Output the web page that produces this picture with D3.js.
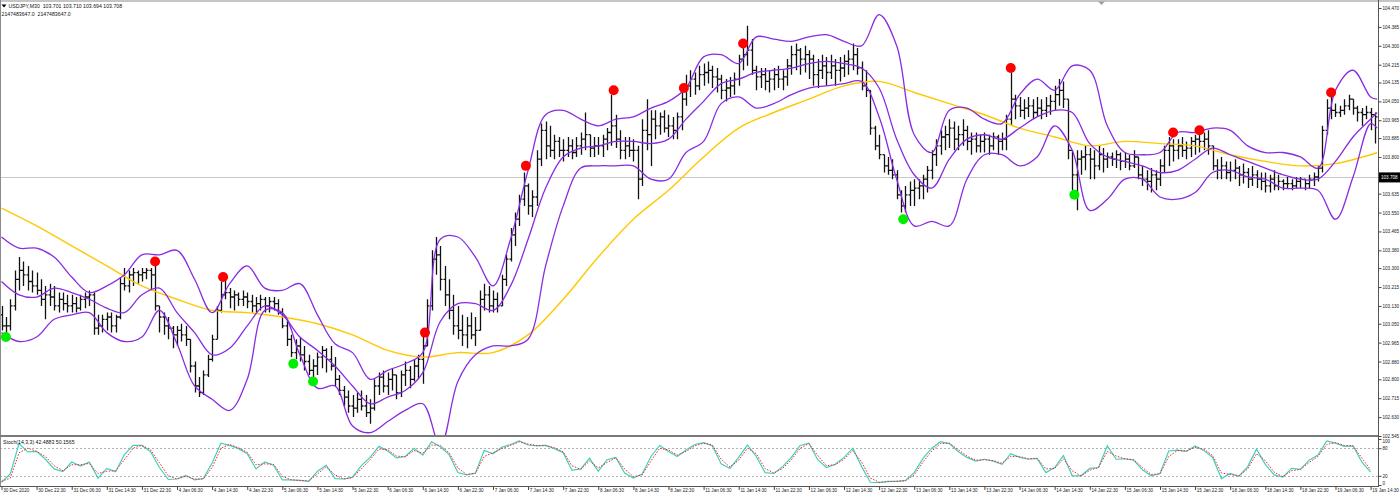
<!DOCTYPE html>
<html><head><meta charset="utf-8">
<script src="https://cdn.jsdelivr.net/npm/d3@7/dist/d3.min.js"></script>
<style>
html,body{margin:0;padding:0;background:#fff;}
svg{display:block;font-family:"Liberation Sans",Arial,sans-serif;}
text{white-space:pre;}
</style></head><body>
<svg id="chart" width="1400" height="497"></svg>
<script>
const symbolLine = "USDJPY,M30  103.701 103.710 103.694 103.708";
const subLine = "2147483647.0  2147483647.0";
const stochLabel = "Stoch(14,3,3) 42.4883 50.1565";
const lastPrice = 103.708;
const timeLabels = ["30 Dec 2020","30 Dec 22:30","31 Dec 06:30","31 Dec 14:30","31 Dec 22:30","4 Jan 06:30","4 Jan 14:30","4 Jan 22:30","5 Jan 06:30","5 Jan 14:30","5 Jan 22:30","6 Jan 06:30","6 Jan 14:30","6 Jan 22:30","7 Jan 06:30","7 Jan 14:30","7 Jan 22:30","8 Jan 06:30","8 Jan 14:30","8 Jan 22:30","11 Jan 06:30","11 Jan 14:30","11 Jan 22:30","12 Jan 06:30","12 Jan 14:30","12 Jan 22:30","13 Jan 06:30","13 Jan 14:30","13 Jan 22:30","14 Jan 06:30","14 Jan 14:30","14 Jan 22:30","15 Jan 06:30","15 Jan 14:30","15 Jan 22:30","18 Jan 06:30","18 Jan 14:30","18 Jan 22:30","19 Jan 06:30","19 Jan 14:30"];
const priceTicks = [104.470,104.385,104.300,104.215,104.135,104.050,103.965,103.885,103.800,103.635,103.550,103.465,103.380,103.300,103.215,103.130,103.050,102.965,102.880,102.800,102.715,102.630,102.545];
const stochTicks = [100,80,20,0];
const barStep = 2;      // M30 slots per drawn bar
const lastBar = 627;
const open0 = 103.09;
const high = [103.13,103.08,103.16,103.29,103.35,103.33,103.31,103.29,
103.28,103.25,103.22,103.23,103.22,103.19,103.19,103.18,
103.18,103.17,103.18,103.19,103.20,103.19,103.09,103.09,
103.10,103.10,103.09,103.26,103.30,103.29,103.30,103.29,
103.30,103.30,103.30,103.31,103.13,103.10,103.08,103.04,
103.04,103.05,103.04,102.98,102.88,102.81,102.84,102.91,
103.00,103.13,103.24,103.25,103.21,103.20,103.19,103.20,
103.19,103.18,103.17,103.18,103.17,103.17,103.17,103.16,
103.12,103.07,103.00,102.98,102.99,102.95,102.91,102.89,
102.92,102.95,102.94,102.95,102.90,102.82,102.77,102.75,
102.73,102.74,102.75,102.73,102.71,102.80,102.83,102.84,
102.83,102.85,102.82,102.84,102.88,102.86,102.89,102.91,
102.99,103.16,103.38,103.44,103.40,103.31,103.25,103.18,
103.13,103.09,103.08,103.10,103.08,103.20,103.23,103.22,
103.20,103.19,103.27,103.36,103.48,103.55,103.63,103.73,
103.68,103.65,103.83,103.95,103.96,103.94,103.90,103.89,
103.88,103.89,103.88,103.89,103.91,104.00,103.90,103.89,
103.89,103.90,103.93,104.08,103.99,103.92,103.89,103.89,
103.88,103.85,103.97,104.06,104.01,104.01,104.00,104.01,
103.99,103.98,104.00,104.09,104.17,104.19,104.18,104.21,
104.22,104.23,104.21,104.20,104.17,104.15,104.16,104.18,
104.26,104.29,104.39,104.33,104.21,104.20,104.20,104.19,
104.20,104.21,104.19,104.24,104.30,104.31,104.29,104.30,
104.28,104.26,104.24,104.26,104.25,104.26,104.24,104.25,
104.26,104.28,104.31,104.29,104.23,104.19,104.10,103.94,
103.90,103.81,103.80,103.79,103.74,103.65,103.67,103.69,
103.70,103.70,103.72,103.76,103.83,103.88,103.92,103.94,
103.97,103.96,103.94,103.97,103.94,103.91,103.91,103.90,
103.91,103.90,103.91,103.90,103.91,103.99,104.18,104.08,
104.07,104.06,104.07,104.06,104.07,104.06,104.07,104.08,
104.12,104.15,104.14,104.06,103.83,103.83,103.83,103.85,
103.84,103.83,103.85,103.84,103.82,103.82,103.83,103.82,
103.82,103.81,103.83,103.79,103.76,103.74,103.75,103.74,
103.79,103.85,103.89,103.88,103.88,103.89,103.87,103.89,
103.90,103.91,103.91,103.92,103.85,103.79,103.80,103.78,
103.78,103.79,103.76,103.77,103.75,103.76,103.74,103.73,
103.73,103.72,103.74,103.72,103.70,103.71,103.70,103.71,
103.71,103.70,103.72,103.73,103.76,103.94,104.06,104.07,
104.04,104.03,104.06,104.08,104.06,104.03,104.02,104.03,
104.02,104.00];
const low = [103.02,102.99,103.02,103.11,103.20,103.22,103.20,103.19,
103.18,103.13,103.07,103.13,103.11,103.10,103.11,103.10,
103.10,103.10,103.11,103.12,103.13,103.00,103.00,103.01,
103.02,103.01,103.01,103.07,103.20,103.19,103.22,103.23,
103.24,103.25,103.20,103.11,103.01,103.00,102.98,102.94,
102.95,102.97,102.95,102.83,102.74,102.72,102.73,102.81,
102.88,102.98,103.10,103.16,103.12,103.11,103.13,103.13,
103.12,103.10,103.10,103.11,103.10,103.10,103.11,103.09,
103.03,102.95,102.90,102.89,102.88,102.84,102.82,102.81,
102.82,102.85,102.83,102.84,102.77,102.73,102.68,102.65,
102.63,102.65,102.66,102.63,102.60,102.66,102.73,102.74,
102.73,102.75,102.71,102.72,102.77,102.76,102.79,102.80,
102.78,102.95,103.11,103.27,103.20,103.13,103.07,103.00,
102.98,102.95,102.94,102.98,102.95,103.02,103.11,103.10,
103.10,103.10,103.13,103.22,103.33,103.40,103.49,103.58,
103.54,103.53,103.58,103.76,103.79,103.80,103.79,103.80,
103.78,103.80,103.79,103.80,103.81,103.83,103.80,103.80,
103.81,103.80,103.83,103.85,103.84,103.79,103.79,103.80,
103.78,103.61,103.67,103.83,103.76,103.88,103.90,103.91,
103.89,103.88,103.88,103.92,104.03,104.07,104.08,104.10,
104.12,104.13,104.11,104.09,104.06,104.05,104.07,104.08,
104.12,104.19,104.21,104.17,104.10,104.11,104.10,104.09,
104.10,104.11,104.10,104.12,104.17,104.19,104.17,104.18,
104.15,104.12,104.11,104.15,104.12,104.15,104.12,104.14,
104.16,104.17,104.19,104.17,104.10,104.07,103.90,103.83,
103.79,103.73,103.72,103.70,103.61,103.55,103.55,103.58,
103.58,103.61,103.61,103.64,103.70,103.76,103.81,103.83,
103.84,103.83,103.83,103.85,103.83,103.81,103.82,103.82,
103.82,103.81,103.83,103.81,103.83,103.83,103.94,103.97,
103.98,103.97,103.98,103.97,103.98,103.97,103.98,103.99,
104.01,104.03,104.02,103.79,103.65,103.56,103.72,103.74,
103.70,103.70,103.74,103.73,103.75,103.76,103.75,103.74,
103.75,103.74,103.75,103.70,103.67,103.65,103.64,103.65,
103.67,103.73,103.76,103.78,103.79,103.80,103.79,103.80,
103.81,103.82,103.83,103.81,103.74,103.70,103.70,103.70,
103.69,103.70,103.67,103.68,103.66,103.67,103.66,103.65,
103.64,103.64,103.65,103.65,103.65,103.66,103.65,103.66,
103.66,103.65,103.66,103.67,103.69,103.73,103.90,103.97,
103.98,103.98,103.99,104.01,103.99,103.96,103.94,103.97,
103.92,103.86];
const close = [103.04,103.04,103.13,103.25,103.29,103.27,103.24,103.22,
103.20,103.16,103.18,103.17,103.13,103.16,103.14,103.13,
103.14,103.12,103.16,103.17,103.18,103.03,103.04,103.07,
103.08,103.04,103.08,103.23,103.22,103.27,103.28,103.27,
103.28,103.29,103.27,103.13,103.08,103.04,103.03,103.00,
103.02,103.00,102.98,102.86,102.77,102.74,102.82,102.89,
102.98,103.11,103.18,103.19,103.17,103.18,103.16,103.17,
103.15,103.13,103.14,103.16,103.13,103.15,103.14,103.10,
103.04,102.98,102.92,102.95,102.91,102.88,102.84,102.86,
102.90,102.93,102.89,102.86,102.80,102.75,102.72,102.68,
102.67,102.71,102.68,102.65,102.67,102.77,102.81,102.77,
102.80,102.82,102.74,102.82,102.84,102.80,102.86,102.89,
102.95,103.13,103.34,103.36,103.25,103.18,103.11,103.04,
103.02,103.00,103.04,103.00,103.02,103.16,103.18,103.13,
103.16,103.13,103.25,103.34,103.45,103.52,103.61,103.67,
103.58,103.62,103.79,103.92,103.85,103.83,103.87,103.83,
103.83,103.85,103.82,103.85,103.88,103.90,103.84,103.85,
103.85,103.88,103.91,103.94,103.88,103.83,103.85,103.83,
103.83,103.70,103.92,103.90,103.97,103.94,103.98,103.93,
103.94,103.92,103.98,104.06,104.12,104.15,104.12,104.17,
104.18,104.19,104.16,104.15,104.10,104.11,104.12,104.15,
104.24,104.26,104.28,104.19,104.16,104.17,104.14,104.15,
104.17,104.15,104.16,104.21,104.26,104.28,104.24,104.26,
104.24,104.17,104.19,104.21,104.18,104.21,104.19,104.20,
104.23,104.24,104.26,104.20,104.12,104.10,103.93,103.85,
103.81,103.76,103.74,103.72,103.63,103.58,103.63,103.65,
103.66,103.67,103.70,103.74,103.81,103.85,103.89,103.90,
103.93,103.88,103.90,103.92,103.87,103.88,103.85,103.87,
103.88,103.85,103.89,103.87,103.88,103.97,104.06,104.03,
104.01,104.02,104.03,104.00,104.02,104.01,104.03,104.05,
104.08,104.10,104.06,103.83,103.72,103.79,103.80,103.81,
103.79,103.76,103.81,103.79,103.80,103.79,103.81,103.78,
103.79,103.76,103.80,103.72,103.70,103.69,103.72,103.70,
103.76,103.83,103.85,103.83,103.85,103.83,103.84,103.87,
103.88,103.87,103.88,103.85,103.76,103.74,103.76,103.73,
103.74,103.75,103.72,103.73,103.70,103.72,103.70,103.69,
103.67,103.70,103.67,103.69,103.68,103.68,103.67,103.69,
103.70,103.68,103.70,103.71,103.75,103.92,104.02,104.01,
104.00,104.01,104.03,104.06,104.02,104.00,103.99,104.00,
103.99,103.98];
const bandStep = 8;
const bbUpper = [103.44,103.39,103.39,103.35,103.26,103.19,103.22,103.27,103.36,103.36,
103.38,103.25,103.10,103.23,103.31,103.21,103.20,103.23,103.09,102.96,
102.92,102.80,102.84,102.87,102.92,103.43,103.44,103.35,103.22,103.43,
103.74,103.99,104.01,103.97,103.94,103.97,103.98,104.02,104.05,104.11,
104.25,104.26,104.22,104.34,104.33,104.32,104.34,104.35,104.32,104.30,
104.44,104.30,103.90,103.82,104.01,104.02,103.97,103.95,104.08,104.15,
104.10,104.21,104.19,103.94,103.82,103.81,103.82,103.91,103.91,103.93,
103.92,103.85,103.82,103.82,103.80,103.75,104.10,104.19,104.07,104.06];
const bbMiddle = [103.24,103.18,103.17,103.21,103.19,103.16,103.12,103.10,103.18,103.21,
103.10,103.01,102.91,102.94,103.04,103.13,103.09,102.99,102.93,102.86,
102.77,102.69,102.72,102.75,102.83,103.06,103.14,103.14,103.11,103.22,
103.43,103.66,103.80,103.84,103.85,103.87,103.87,103.86,103.88,103.97,
104.05,104.13,104.15,104.18,104.19,104.20,104.22,104.23,104.22,104.20,
104.11,103.88,103.72,103.66,103.79,103.88,103.90,103.88,103.93,103.98,
104.01,104.00,103.86,103.80,103.78,103.76,103.73,103.74,103.79,103.84,
103.81,103.78,103.75,103.72,103.70,103.70,103.78,103.89,103.97,104.00];
const bbLower = [103.01,102.97,102.99,103.07,103.09,103.10,103.01,102.97,102.99,103.11,
102.96,102.77,102.71,102.66,102.80,103.11,103.10,102.91,102.76,102.77,
102.59,102.56,102.61,102.66,102.69,102.50,102.79,102.91,102.95,102.95,
102.98,103.31,103.58,103.75,103.76,103.76,103.76,103.70,103.70,103.82,
103.87,104.04,104.07,104.02,104.04,104.08,104.11,104.12,104.13,104.14,
103.98,103.70,103.49,103.51,103.49,103.70,103.81,103.81,103.76,103.80,
103.94,103.83,103.56,103.61,103.70,103.70,103.62,103.61,103.64,103.73,
103.74,103.71,103.70,103.66,103.66,103.65,103.52,103.71,103.95,103.93];
const maStep = 16;
const maLine = [103.57,103.49,103.40,103.31,103.22,103.16,103.11,103.10,103.08,103.05,
103.00,102.93,102.90,102.92,102.92,103.00,103.16,103.35,103.52,103.65,
103.80,103.93,104.00,104.06,104.12,104.14,104.09,104.04,103.99,103.93,
103.89,103.85,103.87,103.86,103.85,103.81,103.78,103.76,103.77,103.81,103.82];
const sellIdx = [70,101,193,239,279,311,338,460,534,546,606];
const sellPrice = [103.33,103.26,103.01,103.76,104.10,104.11,104.31,104.20,103.91,103.92,104.09];
const buyIdx = [2,133,142,411,489];
const buyPrice = [102.99,102.87,102.79,103.52,103.63];
const stochStep = 4;
const stochMain = [6,24,90,72,73,56,35,29,50,41,50,15,36,29,66,86,86,72,38,12,
13,21,11,14,48,91,86,79,68,35,50,43,11,11,10,8,30,43,14,13,
17,42,60,84,74,59,62,80,65,94,83,66,27,22,26,75,68,82,88,96,
87,85,86,79,70,32,35,58,30,55,60,26,15,24,62,86,73,62,76,88,
92,85,46,36,60,87,62,27,25,40,60,86,91,55,38,45,60,80,40,6,
5,8,8,10,27,58,80,94,90,73,60,52,56,52,45,68,60,56,58,27,
38,64,20,20,36,38,85,56,57,54,33,20,25,74,76,73,85,75,60,14,
25,19,40,78,45,22,17,36,34,54,65,96,91,84,85,50,28];
const stochSignal = [8,15,70,80,73,62,42,31,44,44,47,25,30,31,55,80,86,76,48,20,
13,19,13,13,38,80,88,81,71,44,46,45,19,11,10,9,24,40,22,13,
16,35,55,78,77,63,61,75,69,87,86,70,37,23,25,62,70,79,86,94,
89,86,86,81,72,42,34,52,37,49,59,35,18,22,52,80,76,65,73,85,
91,87,56,39,54,80,68,36,26,36,55,80,90,64,42,44,56,75,50,15,
6,7,8,9,22,50,74,90,91,77,63,54,55,53,47,62,62,57,58,35,
36,57,31,20,32,38,73,63,57,55,38,23,24,62,75,74,82,78,64,26,
23,20,35,68,53,28,18,31,34,49,62,88,92,86,85,59,33];

const svg = d3.select("#chart");
const plotR = 1378, mainTop = 2, mainBot = 435, stTop = 438, stBot = 486;
const FS = 5.2, AFS = 4.6;
const x = d3.scaleLinear().domain([0, 624]).range([1.5, 1370.6]);
const y = d3.scaleLinear().domain([102.545, 104.470]).range([436, 8]);
const ys = d3.scaleLinear().domain([0, 100]).range([485, 439]);

const defs = svg.append("defs");
defs.append("clipPath").attr("id","cm").append("rect").attr("x",0).attr("y",mainTop).attr("width",plotR).attr("height",mainBot-mainTop);
defs.append("clipPath").attr("id","cs").append("rect").attr("x",0).attr("y",stTop).attr("width",plotR).attr("height",stBot-stTop);

const gm = svg.append("g").attr("clip-path","url(#cm)");
// current price line
gm.append("line").attr("x1",0).attr("x2",plotR).attr("y1",Math.round(y(lastPrice))+0.5).attr("y2",Math.round(y(lastPrice))+0.5).attr("stroke","#c8c8c8");
// bars
const barPath = high.map((h,j)=>{
  const xi = Math.round(x(j*barStep))+0.5;
  const o = j===0 ? open0 : close[j-1];
  const c = close[j];
  const t = y(Math.max(h,o,c)), b = y(Math.min(low[j],o,c));
  return `M${xi},${t.toFixed(1)}V${b.toFixed(1)}M${xi-2},${y(o).toFixed(1)}H${xi}M${xi},${y(c).toFixed(1)}H${xi+2}`;
}).join("");
gm.append("path").attr("d",barPath).attr("stroke","#111").attr("stroke-width",1.3).attr("fill","none");

const idxOf = step => (d,i) => x(Math.min(i*step, lastBar));
const lineOf = step => d3.line().x(idxOf(step)).y(d=>y(d)).curve(d3.curveCatmullRom.alpha(0.5));
gm.append("path").attr("d",lineOf(maStep)(maLine)).attr("fill","none").attr("stroke","#ffc800").attr("stroke-width",1.4);
[bbUpper,bbMiddle,bbLower].forEach(arr=>{
  gm.append("path").attr("d",lineOf(bandStep)(arr)).attr("fill","none").attr("stroke","#8a2be2").attr("stroke-width",1.3);
});
gm.selectAll("circle.sell").data(sellIdx).join("circle").attr("class","sell")
  .attr("cx",d=>x(d)).attr("cy",(d,i)=>y(sellPrice[i])).attr("r",5).attr("fill","#ff0000");
gm.selectAll("circle.buy").data(buyIdx).join("circle").attr("class","buy")
  .attr("cx",d=>x(d)).attr("cy",(d,i)=>y(buyPrice[i])).attr("r",5).attr("fill","#00ee00");

// stochastic panel
const gs = svg.append("g").attr("clip-path","url(#cs)");
[80,20].forEach(v=>{
  gs.append("line").attr("x1",0).attr("x2",plotR).attr("y1",Math.round(ys(v))+0.5).attr("y2",Math.round(ys(v))+0.5)
    .attr("stroke","#b0b0b0").attr("stroke-dasharray","2,2");
});
const sl = d3.line().x((d,i)=>x(i*stochStep)).y(d=>ys(d));
gs.append("path").attr("d",sl(stochMain)).attr("fill","none").attr("stroke","#40d0c0").attr("stroke-width",1.2);
gs.append("path").attr("d",sl(stochSignal)).attr("fill","none").attr("stroke","#ff2020").attr("stroke-width",1).attr("stroke-dasharray","1.5,1.5");

// frame
svg.append("rect").attr("x",0).attr("y",0.5).attr("width",1400).attr("height",1).attr("fill","#8c8c8c");
svg.append("rect").attr("x",0).attr("y",0).attr("width",1).attr("height",stBot).attr("fill","#8c8c8c");
svg.append("rect").attr("x",0).attr("y",435).attr("width",plotR).attr("height",2).attr("fill","#7a7a7a");
svg.append("rect").attr("x",0).attr("y",stBot).attr("width",plotR+1).attr("height",1).attr("fill","#555");
svg.append("rect").attr("x",plotR).attr("y",0).attr("width",1).attr("height",stBot+1).attr("fill","#555");
// chart shift marker
svg.append("path").attr("d","M1098,1.5L1105,1.5L1101.5,5Z").attr("fill","#a0a0a0");

// right price axis
const ya = svg.append("g").attr("transform",`translate(${plotR+1},0)`)
  .call(d3.axisRight(y).tickValues(priceTicks).tickSize(2.5).tickSizeOuter(0).tickPadding(1).tickFormat(d3.format(".3f")));
ya.select(".domain").remove();
ya.selectAll("line").attr("stroke","#444");
ya.selectAll("text").attr("font-size",AFS).attr("fill","#222").attr("font-family","Liberation Sans, Arial, sans-serif");
// current price box
const py = y(lastPrice);
svg.append("rect").attr("x",plotR+1).attr("y",py-5).attr("width",21).attr("height",10).attr("fill","#000");
svg.append("text").attr("x",plotR+3).attr("y",py).attr("dy","0.35em").attr("font-size",AFS).attr("fill","#fff").text(d3.format(".3f")(lastPrice));

// stochastic axis
const sa = svg.append("g").attr("transform",`translate(${plotR+1},0)`)
  .call(d3.axisRight(ys).tickValues(stochTicks).tickSize(2.5).tickSizeOuter(0).tickPadding(1));
sa.select(".domain").remove();
sa.selectAll("line").attr("stroke","#444");
sa.selectAll("text").attr("font-size",AFS).attr("fill","#222").attr("font-family","Liberation Sans, Arial, sans-serif")
  .attr("dy",d=> d===100 ? "0.75em" : d===0 ? "-0.1em" : "0.32em");

// time axis
const xa = svg.append("g").attr("transform",`translate(0,${stBot+1})`)
  .call(d3.axisBottom(x).tickValues(d3.range(0, 625, 16)).tickSize(3).tickSizeOuter(0).tickFormat((d,i)=>timeLabels[i]));
xa.select(".domain").remove();
xa.selectAll("line").attr("stroke","#444");
xa.selectAll("text").attr("font-size",AFS).attr("fill","#222").attr("text-anchor","start").attr("x",1.2).attr("y",1).attr("dy","0.9em")
  .attr("font-family","Liberation Sans, Arial, sans-serif");

// header & indicator label
svg.append("path").attr("d","M1.5,4.5L6.5,4.5L4,7.5Z").attr("fill","#000");
svg.append("text").attr("x",8.5).attr("y",6).attr("dy","0.35em").attr("font-size",FS).attr("fill","#111").text(symbolLine);
svg.append("text").attr("x",1.5).attr("y",14.5).attr("dy","0.35em").attr("font-size",FS).attr("fill","#111").text(subLine);
svg.append("text").attr("x",3).attr("y",442.5).attr("dy","0.35em").attr("font-size",FS).attr("fill","#111").text(stochLabel);
</script>
</body></html>
